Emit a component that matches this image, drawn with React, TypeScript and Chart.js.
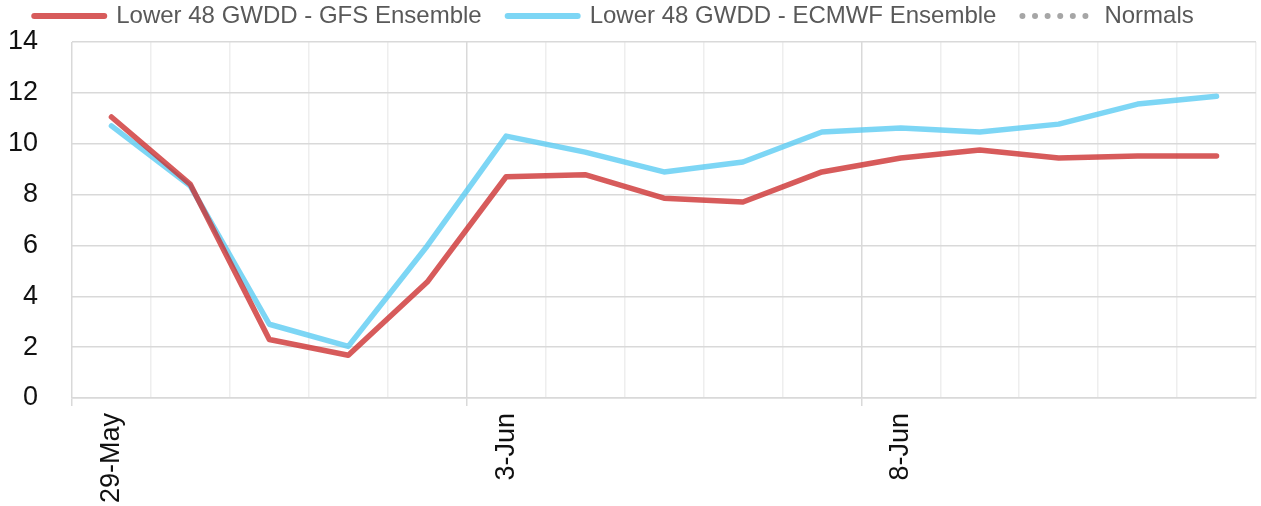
import React, { useEffect, useRef } from "react";
import { Chart, registerables } from "chart.js";

Chart.register(...registerables);

const categories = [
  "29-May", "30-May", "31-May", "1-Jun", "2-Jun", "3-Jun", "4-Jun", "5-Jun",
  "6-Jun", "7-Jun", "8-Jun", "9-Jun", "10-Jun", "11-Jun", "12-Jun",
];
const gfsValues = [11.05, 8.4, 2.3, 1.68, 4.56, 8.7, 8.78, 7.86, 7.71, 8.89, 9.44, 9.75, 9.44, 9.52, 9.52];
const ecmwfValues = [10.7, 8.33, 2.9, 2.03, 5.98, 10.3, 9.67, 8.89, 9.28, 10.46, 10.62, 10.46, 10.77, 11.56, 11.87];
const normalsValues: (number | null)[] = categories.map(() => null);
const yTicks = [0, 2, 4, 6, 8, 10, 12, 14];

const FONT = "'Liberation Sans', Arial, sans-serif";

const legendFitPlugin = {
  id: "legendFit",
  beforeLayout(chart: any) {
    const lg = chart.legend;
    if (lg && !lg._patchedFit) {
      const orig = lg.fit;
      lg.fit = function () {
        orig.call(this);
        this.height = 42;
      };
      lg._patchedFit = true;
    }
  },
  afterLayout(chart: any) {
    const lg = chart.legend;
    if (lg) {
      lg.left -= 18;
      lg.right -= 18;
      lg.top -= 22;
    }
  },
};

export default function App() {
  const ref = useRef<HTMLCanvasElement | null>(null);
  useEffect(() => {
    document.body.style.margin = "0";
    const canvas = ref.current!;
    const chart = new Chart(canvas, {
      type: "line",
      data: {
        labels: categories,
        datasets: [
          {
            label: "Lower 48 GWDD - GFS Ensemble",
            data: gfsValues,
            borderColor: "rgba(204, 45, 45, 0.78)",
            backgroundColor: "rgba(204, 45, 45, 0.78)",
            borderWidth: 5.5,
            borderCapStyle: "round",
            borderJoinStyle: "round",
            pointRadius: 0,
            tension: 0,
          },
          {
            label: "Lower 48 GWDD - ECMWF Ensemble",
            data: ecmwfValues,
            borderColor: "rgba(82, 200, 242, 0.75)",
            backgroundColor: "rgba(82, 200, 242, 0.75)",
            borderWidth: 5.5,
            borderCapStyle: "round",
            borderJoinStyle: "round",
            pointRadius: 0,
            tension: 0,
          },
          {
            label: "Normals",
            data: normalsValues,
            borderColor: "#a6a6a6",
            backgroundColor: "#a6a6a6",
            borderWidth: 5,
            borderDash: [0, 12.6],
            borderCapStyle: "round",
            pointRadius: 0,
          },
        ],
      },
      options: {
        responsive: false,
        animation: false,
        layout: { padding: { left: 8, right: 5, top: 0, bottom: 0 } },
        plugins: {
          tooltip: { enabled: false },
          legend: {
            position: "top",
            align: "center",
            labels: {
              usePointStyle: true,
              pointStyle: "line",
              pointStyleWidth: 70,
              boxHeight: 10,
              padding: 26,
              color: "#595959",
              font: { family: FONT, size: 24 },
              generateLabels: (ch: any) =>
                ch.data.datasets.map((ds: any, i: number) => ({
                  text: ds.label,
                  fillStyle: ds.borderColor,
                  strokeStyle: ds.borderColor,
                  fontColor: "#595959",
                  lineWidth: 6,
                  lineCap: "round",
                  lineDash: ds.borderDash || [],
                  pointStyle: "line",
                  hidden: false,
                  datasetIndex: i,
                })),
            },
          },
        },
        scales: {
          x: {
            type: "category",
            offset: true,
            afterFit: (scale: any) => {
              scale.height = 108;
            },
            grid: {
              offset: true,
              drawTicks: true,
              tickLength: 8,
              lineWidth: 1.5,
              color: (ctx: any) => (ctx.index % 5 === 0 ? "#d9d9d9" : "#eeeeee"),
              tickColor: (ctx: any) => (ctx.index % 5 === 0 ? "#d9d9d9" : "rgba(0,0,0,0)"),
            },
            border: { display: true, color: "#d9d9d9", width: 1.5 },
            ticks: {
              autoSkip: false,
              maxRotation: 90,
              minRotation: 90,
              padding: 7,
              color: "#111",
              font: { family: FONT, size: 27 },
              callback: (_v: any, i: number) => (i % 5 === 0 ? categories[i] : ""),
            },
          },
          y: {
            min: yTicks[0],
            max: yTicks[yTicks.length - 1],
            afterBuildTicks: (scale: any) => {
              scale.ticks = yTicks.map((v) => ({ value: v }));
            },
            afterFit: (scale: any) => {
              scale.width = 64;
            },
            grid: {
              drawTicks: true,
              tickLength: 34,
              tickColor: "rgba(0,0,0,0)",
              color: "#d9d9d9",
              lineWidth: 1.5,
            },
            border: { display: false },
            ticks: {
              padding: 0,
              color: "#111",
              font: { family: FONT, size: 27 },
            },
          },
        },
      },
      plugins: [legendFitPlugin],
    });
    return () => chart.destroy();
  }, []);
  return (
    <div style={{ width: 1261, height: 506 }}>
      <canvas ref={ref} width={1261} height={506} />
    </div>
  );
}
